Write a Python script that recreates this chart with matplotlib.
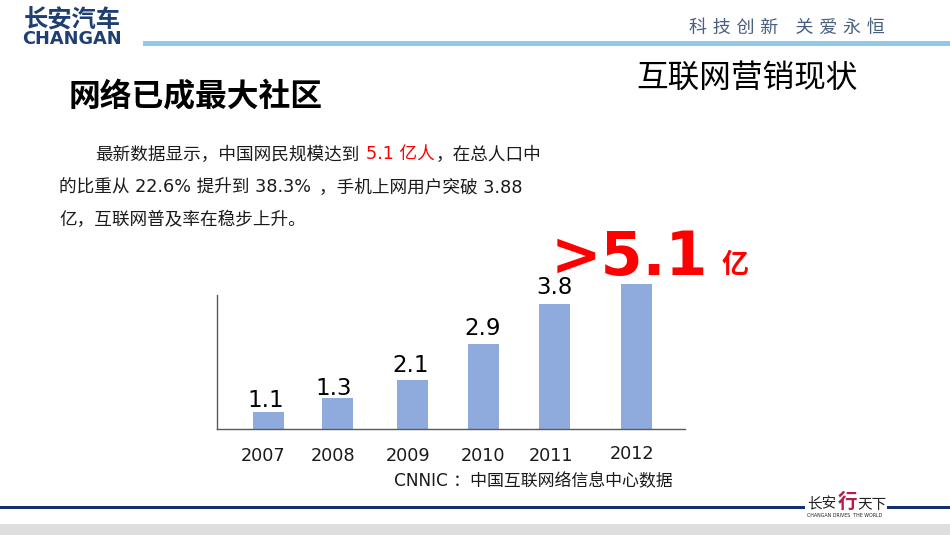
import matplotlib
matplotlib.use("Agg")
import matplotlib.pyplot as plt
from matplotlib.patches import Rectangle

plt.rcParams['font.family'] = ['DejaVu Sans', 'Noto Sans CJK SC']

# --- data ---
years = ['2007', '2008', '2009', '2010', '2011', '2012']
bar_heights = [0.60, 1.09, 1.72, 2.99, 4.40, 5.10]   # drawn heights (the slide's bars are not to scale)
bar_centers = [268.5, 337.5, 412.5, 483.5, 554.5, 636.5]
year_centers = [263, 333, 408, 483, 551, 632]
value_labels = ['1.1', '1.3', '2.1', '2.9', '3.8']
label_x = [266, 334, 411, 483, 555]
label_y = [0.77, 1.20, 2.01, 3.31, 4.74]

RED = '#FF0000'
BAR = '#8FAADC'
NAVY = '#1F3F73'

fig = plt.figure(figsize=(9.5, 5.35), dpi=100, facecolor='white')

# overlay in slide pixel coordinates for the decoration and text
bg = fig.add_axes([0, 0, 1, 1])
bg.set_xlim(0, 950)
bg.set_ylim(535, 0)
bg.axis('off')

# header
bg.add_patch(Rectangle((143, 41), 807, 4.5, color='#8FCBE6', lw=0))
bg.text(72, 20, '长安汽车', fontsize=17.5, fontweight='bold', color=NAVY, ha='center', va='center')
bg.text(72, 39.5, 'CHANGAN', fontsize=12.8, fontweight='bold', color=NAVY, ha='center', va='center')
bg.text(787, 28, '科 技 创 新   关 爱 永 恒', fontsize=13, color='#4A5F80', ha='center', va='center')

# titles
bg.text(747, 78, '互联网营销现状', fontsize=22.8, color='black', ha='center', va='center')
bg.text(196, 98, '网络已成最大社区', fontsize=22.9, fontweight='bold', color='black', ha='center', va='center')

# body text
body = dict(fontsize=12.7, va='center', ha='left', color='#1a1a1a')
bg.text(95, 155, '最新数据显示，中国网民规模达到', **body)
bg.text(366, 155, '5.1 亿人', fontsize=12.7, va='center', ha='left', color=RED)
bg.text(436, 155, '，在总人口中', **body)
bg.text(59, 188, '的比重从 22.6% 提升到 38.3%', **body)
bg.text(319, 188, '，手机上网用户突破 3.88', **body)
bg.text(59, 220, '亿，互联网普及率在稳步上升。', **body)

# callout
bg.text(551, 258.5, '>5.1', fontsize=43.5, fontweight='bold', color=RED, ha='left', va='center')
bg.text(735, 266, '亿', fontsize=19.5, fontweight='bold', color=RED, ha='center', va='center')

# source
bg.text(394, 481, 'CNNIC ：中国互联网络信息中心数据', fontsize=12.2, color='#1a1a1a', ha='left', va='center')

# footer
bg.add_patch(Rectangle((0, 506), 805, 3, color='#12306E', lw=0))
bg.add_patch(Rectangle((887, 506), 63, 3, color='#12306E', lw=0))
bg.add_patch(Rectangle((0, 524), 950, 11, color='#DEDEDE', lw=0))
bg.text(822, 504, '长安', fontsize=10.5, color='#222222', ha='center', va='center')
bg.text(847, 502, '行', fontsize=14, fontweight='bold', color='#B0204A', ha='center', va='center')
bg.text(872, 504, '天下', fontsize=10.5, color='#222222', ha='center', va='center')
bg.text(845, 515.5, 'CHANGAN DRIVES  THE WORLD', fontsize=3.4, color='#222222', ha='center', va='center')

# chart axes: spans pixels x 217-685, y 295-429
ax = fig.add_axes([217 / 950, 1 - 429 / 535, 468 / 950, 134 / 535])
ax.set_xlim(217, 685)
ax.set_ylim(0, 134 / 28.43)
ax.patch.set_alpha(0)
for s in ('top', 'right'):
    ax.spines[s].set_visible(False)
for s in ('left', 'bottom'):
    ax.spines[s].set_color('#5a5a5a')
    ax.spines[s].set_linewidth(1.0)

ax.bar(bar_centers, bar_heights, width=31, color=BAR, clip_on=False, zorder=2)

for x, y, t in zip(label_x, label_y, value_labels):
    ax.text(x, y, t, fontsize=16.5, ha='center', va='baseline', color='black', clip_on=False)

ax.set_yticks([])
ax.set_xticks(year_centers)
ax.set_xticklabels(years, fontsize=12.7, color='#1a1a1a')
ax.tick_params(axis='x', length=0, pad=13)
ax.xaxis.get_major_ticks()[5].set_pad(11.5)

fig.savefig('out.png', dpi=100)
